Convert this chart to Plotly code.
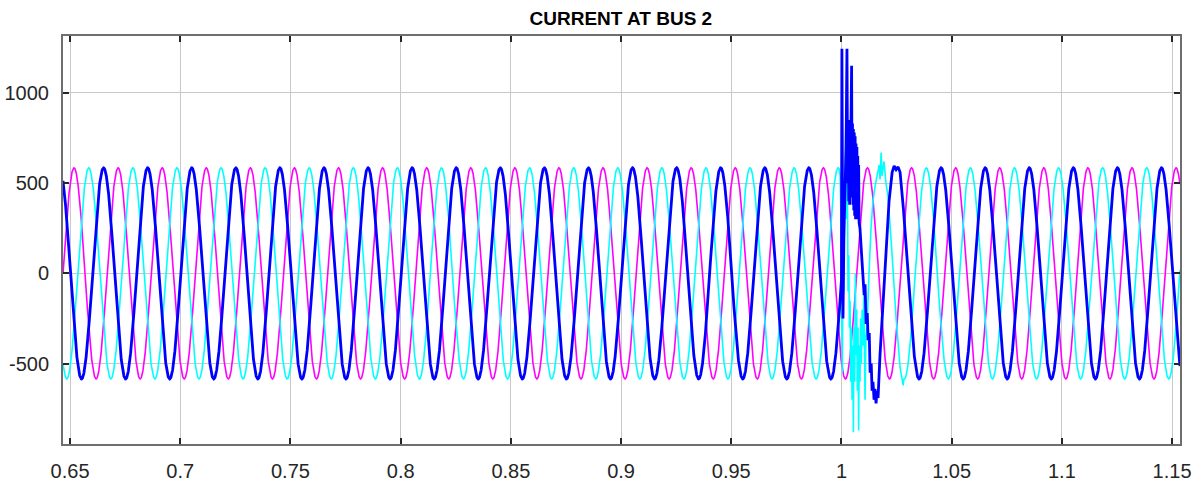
import numpy as np
import plotly.graph_objects as go

# ---- values ----
title_text = "CURRENT AT BUS 2"
x_ticks = [0.65, 0.7, 0.75, 0.8, 0.85, 0.9, 0.95, 1.0, 1.05, 1.1, 1.15]
x_tick_labels = ["0.65", "0.7", "0.75", "0.8", "0.85", "0.9", "0.95", "1", "1.05", "1.1", "1.15"]
y_ticks = [-500, 0, 500, 1000]
y_tick_labels = ["-500", "0", "500", "1000"]
x_range = [0.6468, 1.1536]
y_range = [-945, 1315]

# steady-state waveform readings (amplitude, frequency, time of a peak)
amplitude = 585.0
frequency = 50.0
peak_time_a = 0.6652   # blue phase
peak_time_b = 0.6518   # magenta phase
peak_time_c = 0.6585   # cyan phase
sample_step = 0.00005

# fault transient readings, phase A (blue)
fault_a_t = [1.0000, 1.0002, 1.0004, 1.0007, 1.0011, 1.0016, 1.0021, 1.0025, 1.0028,
             1.0031, 1.0033, 1.0035, 1.0037, 1.0039, 1.0041, 1.0043, 1.0046, 1.0048,
             1.0050, 1.0052, 1.0054, 1.0056, 1.0058, 1.0060, 1.0062, 1.0064, 1.0066,
             1.0068, 1.0070, 1.0072, 1.0074, 1.0076, 1.0078, 1.0080, 1.0084, 1.0089,
             1.0094, 1.0098, 1.0103, 1.0107, 1.0112, 1.0117, 1.0121, 1.0126, 1.0130,
             1.0135, 1.0139, 1.0143, 1.0148, 1.0152, 1.0157, 1.0161, 1.0166, 1.0175,
             1.0189, 1.0202, 1.0216, 1.0230, 1.0239, 1.0248, 1.0257, 1.0266]
fault_a_v = [-40, 1245, 600, -250, 200, 500, 700, 1245, 500,
             850, 400, 820, 380, 850, 420, 800, 1150, 450,
             830, 380, 800, 350, 780, 320, 760, 300, 720,
             300, 700, 330, 650, 320, 600, 280, 250, 150,
             60, -40, -120, -60, -280, -220, -370, -330, -550,
             -500, -650, -600, -700, -640, -720, -650, -690, -450,
             -150, 150, 400, 560, 595, 575, 590, 560]

# fault transient readings, phase C (cyan)
fault_c_t = [0.9989, 0.9994, 0.9998, 1.0001, 1.0004, 1.0007, 1.0010, 1.0013, 1.0017,
             1.0021, 1.0024, 1.0027, 1.0030, 1.0033, 1.0036, 1.0039, 1.0042, 1.0045,
             1.0048, 1.0051, 1.0054, 1.0057, 1.0060, 1.0063, 1.0066, 1.0069, 1.0072,
             1.0075, 1.0078, 1.0081, 1.0084, 1.0087, 1.0090, 1.0094, 1.0098, 1.0102,
             1.0107, 1.0111, 1.0116, 1.0121, 1.0125, 1.0134, 1.0143, 1.0152, 1.0162,
             1.0171, 1.0175, 1.0180, 1.0184, 1.0193, 1.0202, 1.0211, 1.0230, 1.0248,
             1.0266, 1.0280]
fault_c_v = [580, 540, 300, -200, -550, 100, -100, 400, 700,
             900, 300, 500, -100, 100, -300, -150, -600, -300,
             -700, -400, -880, -300, -600, 0, -450, -200, -650,
             -300, -870, -400, -600, -250, -500, -200, -400, -100,
             -700, -350, -300, -50, 0, 250, 400, 480, 550,
             600, 520, 670, 540, 620, 500, 430, 100, -250,
             -520, -620]

# ---- build series ----
t = np.arange(x_range[0], x_range[1] + sample_step, sample_step)


def steady(tp):
    return amplitude * np.cos(2 * np.pi * frequency * (t - tp))


def with_fault(base, ft, fv):
    ft = np.array(ft)
    fv = np.array(fv, dtype=float)
    keep = (t < ft[0]) | (t > ft[-1] + 0.0003)
    tt = np.concatenate([t[keep], ft])
    vv = np.concatenate([base[keep], fv])
    order = np.argsort(tt, kind="stable")
    return tt[order], vv[order]


ia_t, ia_v = with_fault(steady(peak_time_a), fault_a_t, fault_a_v)
ib_t, ib_v = t, steady(peak_time_b)
ic_t, ic_v = with_fault(steady(peak_time_c), fault_c_t, fault_c_v)

fig = go.Figure()
fig.add_trace(go.Scatter(x=ib_t, y=ib_v, mode="lines",
                         line=dict(color="#ff00ff", width=1.6), showlegend=False))
fig.add_trace(go.Scatter(x=ic_t, y=ic_v, mode="lines",
                         line=dict(color="#00ffff", width=1.6), showlegend=False))
fig.add_trace(go.Scatter(x=ia_t, y=ia_v, mode="lines",
                         line=dict(color="#0000ff", width=2.8), showlegend=False))

axis_common = dict(
    showline=True, linecolor="#6e6e6e", linewidth=2, mirror="ticks",
    ticks="inside", ticklen=6, tickwidth=1.5, tickcolor="#262626",
    showgrid=True, gridcolor="#c8c8c8", gridwidth=1,
    zeroline=False, automargin=False,
    tickfont=dict(family="Liberation Sans, Arial, sans-serif", size=20, color="#262626"),
)

fig.update_xaxes(range=x_range, tickvals=x_ticks, ticktext=x_tick_labels,
                 ticklabelstandoff=8, **axis_common)
fig.update_yaxes(range=y_range, tickvals=y_ticks, ticktext=y_tick_labels,
                 ticklabelstandoff=8, **axis_common)

fig.update_layout(
    width=1203, height=484,
    margin=dict(l=63, r=23, t=36, b=40, autoexpand=False),
    paper_bgcolor="white", plot_bgcolor="white",
    title=dict(text="<b>" + title_text + "</b>", x=0.5161, xanchor="center",
               y=1 - 18 / 484, yanchor="middle",
               font=dict(family="Liberation Sans Narrow, Arial Narrow, Liberation Sans, sans-serif",
                         size=19, color="#000000")),
)

fig.write_html("out.html", config={"displayModeBar": False},
               post_script="document.body.style.margin='0px';document.body.style.overflow='hidden';")
